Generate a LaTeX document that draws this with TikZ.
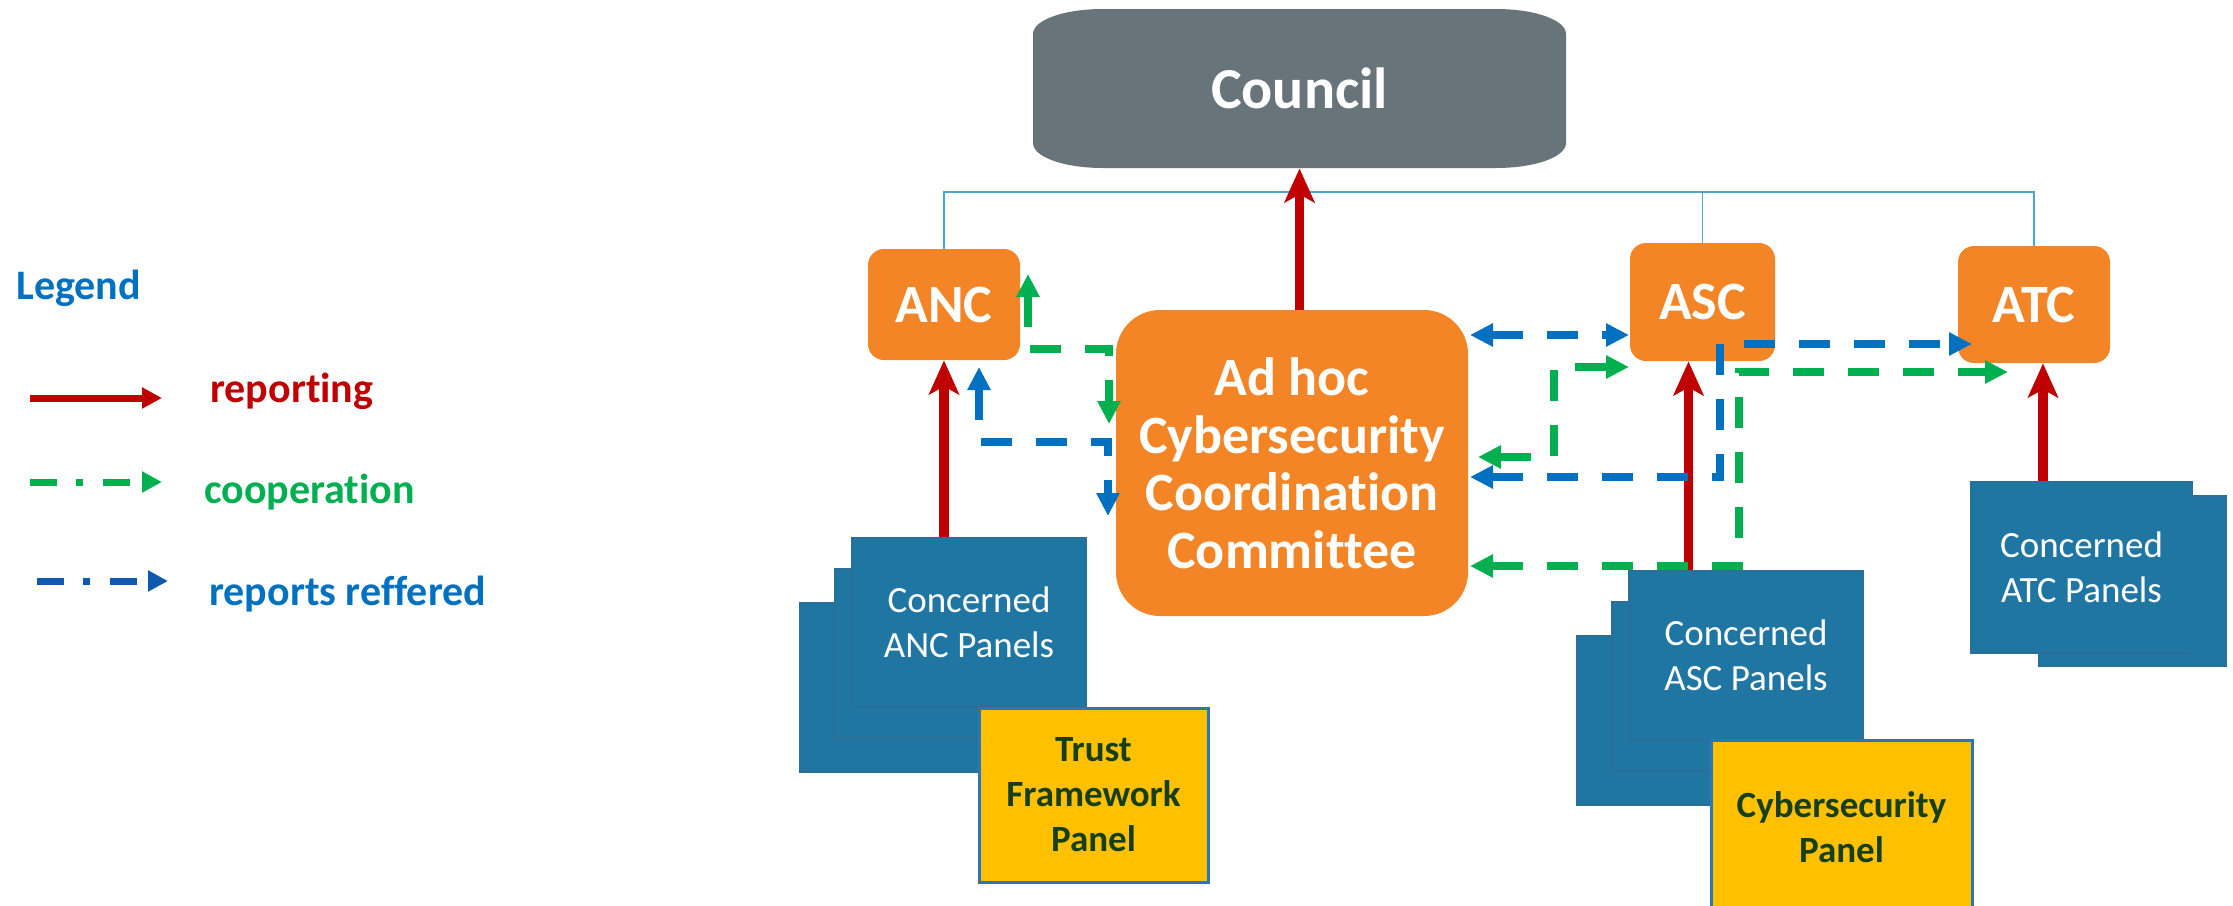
\documentclass[tikz,border=0pt]{standalone}
\usepackage{fontspec}
\setmainfont{Carlito}[Ligatures={NoCommon}]
\usepackage{tikz}
\usetikzlibrary{arrows.meta}
\definecolor{boxorange}{HTML}{F38526}
\definecolor{councilgrey}{HTML}{67747A}
\definecolor{panelblue}{HTML}{1F76A3}
\definecolor{paneledge}{HTML}{2B6E98}
\definecolor{keyyellow}{HTML}{FFC000}
\definecolor{keyedge}{HTML}{2E75B6}
\definecolor{keytext}{HTML}{173F17}
\definecolor{repred}{HTML}{C00000}
\definecolor{coopgreen}{HTML}{00B050}
\definecolor{refblue}{HTML}{0070C0}
\definecolor{legblue}{HTML}{0F5AAE}
\definecolor{buslink}{HTML}{4BA6DC}

\begin{document}
\begin{tikzpicture}[x=0.5pt,y=-0.5pt,
  box/.style={fill=boxorange, text=white, inner sep=0pt, rounded corners=8pt,
    font=\fontsize{27}{28.75}\selectfont\bfseries},
  panel/.style={fill=panelblue, draw=paneledge, line width=0.6pt, inner sep=0pt,
    minimum width=117pt, minimum height=84.5pt, text=white, align=center,
    font=\fontsize{18.5}{22.5}\selectfont},
  keypanel/.style={fill=keyyellow, draw=keyedge, line width=1.5pt, inner sep=0pt,
    text=keytext, align=center, font=\fontsize{18.5}{22.5}\selectfont\bfseries},
  legtext/.style={anchor=base west, inner sep=0pt, font=\fontsize{21}{25}\selectfont\bfseries},
  rep/.style={draw=repred, line width=4.75pt, -{Stealth[length=17pt,width=15pt,inset=4pt]}},
  coop/.style={draw=coopgreen, line width=3.75pt, dash pattern=on 15.5pt off 12pt,
    {Triangle[length=11.5pt,width=11pt]}-{Triangle[length=11.5pt,width=11pt]}},
  refer/.style={draw=refblue, line width=3.75pt, dash pattern=on 15.5pt off 12pt,
    {Triangle[length=11.5pt,width=11pt]}-{Triangle[length=11.5pt,width=11pt]}},
  bus/.style={draw=buslink, line width=0.8pt}]
\useasboundingbox (0,0) rectangle (2233,905);

\fill[councilgrey] (1033,34) .. controls (1033,20) and (1064,9) .. (1103,9) -- (1496,9)
  .. controls (1535,9) and (1566,20) .. (1566,34) -- (1566,143)
  .. controls (1566,157) and (1535,168) .. (1496,168) -- (1103,168)
  .. controls (1064,168) and (1033,157) .. (1033,143) -- cycle;
\node (council) [text=white, minimum width=266.5pt, minimum height=79.5pt,
  font=\fontsize{29}{31}\selectfont\bfseries] at (1299.5,88.5) {Council};

\node (anc) [box, minimum width=76pt, minimum height=55.5pt] at (944,304.5) {ANC};
\node (asc) [box, minimum width=72.5pt, minimum height=59pt] at (1702.5,302) {ASC};
\node (atc) [box, minimum width=76pt, minimum height=58.5pt] at (2034,304.5) {ATC};
\node (ccc) [box, rounded corners=22pt, minimum width=176pt, minimum height=153pt,
  align=center] at (1292,463) {Ad hoc\\Cybersecurity\\Coordination\\Committee};

\coordinate (busmid) at (1300,192);
\draw[bus] (anc.north) -- (anc.north |- busmid) -- (atc.north |- busmid) -- (atc.north);
\draw[bus] (asc.north |- busmid) -- (asc.north);

\node (ancback) [panel] at (917,687.5) {};
\node (ancmid) [panel] at (952,653.5) {};
\node (ancpanel) [panel] at (969,622.5) {Concerned\\ANC Panels};
\node (trust) [keypanel, minimum width=114.5pt, minimum height=87pt] at (1093.5,795) {Trust\\Framework\\Panel};

\node (ascback) [panel] at (1694,720.5) {};
\node (ascmid) [panel] at (1729,686.5) {};
\node (ascpanel) [panel] at (1746,655.5) {Concerned\\ASC Panels};
\node (cyber) [keypanel, minimum width=130.5pt, minimum height=87pt] at (1841.5,827) {Cybersecurity\\Panel};

\node (atcback) [panel, minimum width=93.5pt, minimum height=85pt] at (2132.5,581) {};
\node (atcpanel) [panel, minimum width=110.5pt, minimum height=85.5pt] at (2081.5,567.5) {Concerned\\ATC Panels};

\draw[rep] (ccc.north -| council.south) -- (council.south);
\draw[rep] (anc.south |- ancpanel.north) -- (anc.south);
\draw[rep] ([xshift=-7pt]asc.south |- ascpanel.north) -- ([xshift=-7pt]asc.south);
\draw[rep] ([xshift=4.5pt]atc.south |- atcpanel.north) -- ([xshift=4.5pt]atc.south);

\coordinate (ancup) at (1028,274);
\coordinate (cccleftA) at (1109,424);
\coordinate (ancdown) at (979,367);
\coordinate (cccleftB) at (1108,516);
\coordinate (cccrightA) at (1470,335);
\coordinate (ascleftA) at (1629,335);
\coordinate (cccrightB) at (1478,457);
\coordinate (ascleftB) at (1629,367);
\coordinate (cccrightC) at (1470,477);
\coordinate (atcleftA) at (1972,344);
\coordinate (cccrightD) at (1470,566);
\coordinate (atcleftB) at (2008,372);

\draw[coop] (ancup) -- (1028,349) -| (cccleftA);
\draw[refer] (ancdown) -- (979,442) -| (cccleftB);
\draw[refer] (cccrightA) -- (ascleftA);
\draw[coop] (cccrightB) -- (1554,457) |- (ascleftB);
\draw[refer] (cccrightC) -- (1720,477) |- (atcleftA);
\draw[coop] (cccrightD) -- (1739,566) |- (atcleftB);

\node (legend) [legtext, text=refblue] at (16,299) {Legend};
\coordinate (repA) at (30,398);
\coordinate (repB) at (162,398);
\draw[draw=repred, line width=3.5pt, -{Triangle[length=10pt,width=10pt]}] (repA) -- (repB);
\node (reptext) [legtext, text=repred] at (210,402) {reporting};
\coordinate (coopA) at (30,482);
\coordinate (coopB) at (162,482);
\draw[draw=coopgreen, line width=3.5pt, dash pattern=on 13.5pt off 9.5pt on 3.5pt off 10pt,
  -{Triangle[length=10pt,width=10pt]}] (coopA) -- (coopB);
\node (cooptext) [legtext, text=coopgreen] at (204,503) {cooperation};
\coordinate (refA) at (37,581);
\coordinate (refB) at (168,581);
\draw[draw=legblue, line width=3.5pt, dash pattern=on 13.5pt off 9.5pt on 3.5pt off 10pt,
  -{Triangle[length=10pt,width=10pt]}] (refA) -- (refB);
\node (reftext) [legtext, text=refblue] at (209,605) {reports reffered};
\end{tikzpicture}
\end{document}
